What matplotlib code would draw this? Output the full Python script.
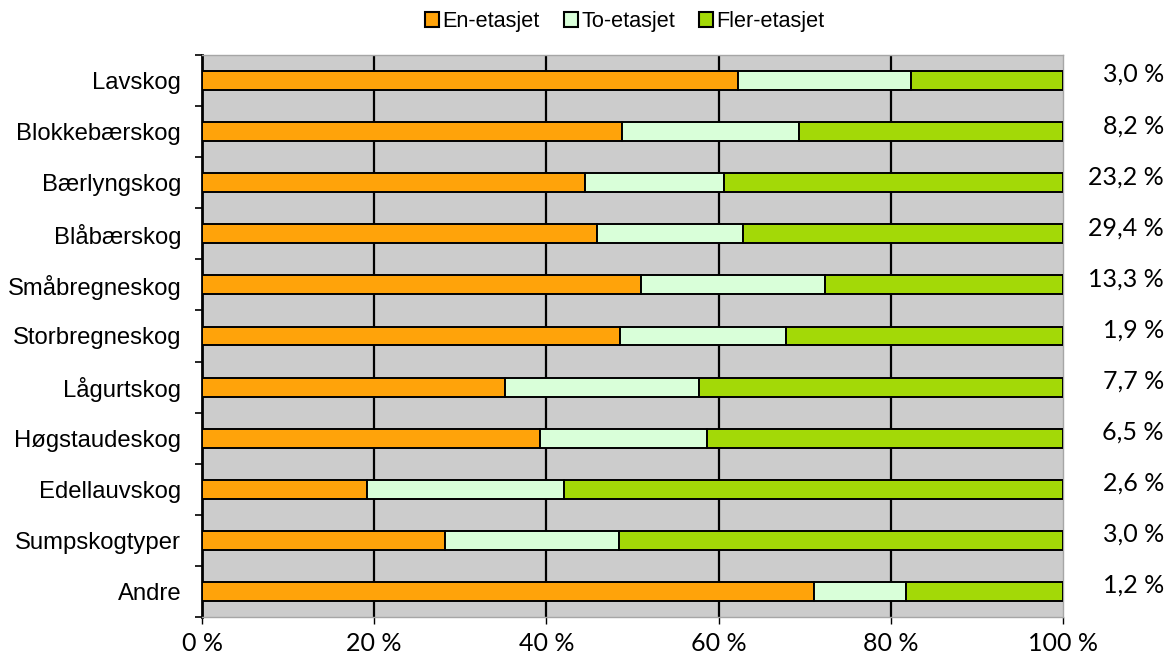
import numpy as np
import matplotlib
matplotlib.use("Agg")
import matplotlib.pyplot as plt
from matplotlib.patches import Patch

plt.rcParams["font.family"] = ["Liberation Sans", "DejaVu Sans"]

# Forest types, top to bottom
skogtyper = ["Lavskog", "Blokkebærskog", "Bærlyngskog", "Blåbærskog", "Småbregneskog",
             "Storbregneskog", "Lågurtskog", "Høgstaudeskog", "Edellauvskog",
             "Sumpskogtyper", "Andre"]

# Share of each layering class (%)
en_etasjet = [62.2, 48.8, 44.5, 45.9, 51.0, 48.6, 35.2, 39.2, 19.2, 28.2, 71.1]
to_etasjet = [20.2, 20.5, 16.1, 16.9, 21.3, 19.2, 22.5, 19.5, 22.8, 20.2, 10.7]
fler_etasjet = [17.6, 30.7, 39.4, 37.2, 27.7, 32.2, 42.3, 41.3, 58.0, 51.6, 18.2]

# Share of total area per forest type (%)
andel = [3.0, 8.2, 23.2, 29.4, 13.3, 1.9, 7.7, 6.5, 2.6, 3.0, 1.2]

x_ticks = [0, 20, 40, 60, 80, 100]

series = [("En-etasjet", en_etasjet, "#FFA30A"),
          ("To-etasjet", to_etasjet, "#D9FFD9"),
          ("Fler-etasjet", fler_etasjet, "#A3D907")]

fig = plt.figure(figsize=(11.7, 6.59), dpi=100)
ax = fig.add_axes([202 / 1170, 1 - 617 / 659, 861 / 1170, 562 / 659])
ax.set_facecolor("#CCCCCC")

y = np.arange(len(skogtyper))
left = np.zeros(len(skogtyper))
for name, vals, col in series:
    vals = np.array(vals)
    ax.barh(y, vals, left=left, height=0.37, color=col, edgecolor="black",
            linewidth=1.4, zorder=3, label=name)
    left += vals

for v in x_ticks[1:-1]:
    ax.axvline(v, color="black", lw=1.6, zorder=1)

ax.set_xlim(0, 100)
ax.set_ylim(len(skogtyper) - 0.5, -0.5)

ax.set_yticks(y)
ax.set_yticklabels(skogtyper)
ax.tick_params(axis="y", which="major", length=0, pad=15, labelsize=17.2)
ax.set_yticks(np.arange(len(skogtyper) + 1) - 0.5, minor=True)
ax.tick_params(axis="y", which="minor", length=5, width=1.2, direction="out")

ax.set_xticks(x_ticks)
ax.set_xticklabels([f"{v} %" for v in x_ticks])
ax.tick_params(axis="x", length=5, width=1, direction="out", pad=6)
for lbl in ax.get_xticklabels():
    lbl.set_fontfamily("Lato")
    lbl.set_fontsize(18)

for side in ["top", "right", "bottom"]:
    ax.spines[side].set_color("#A6A6A6")
    ax.spines[side].set_linewidth(1)
ax.spines["left"].set_color("black")
ax.spines["left"].set_linewidth(2)

# Area share at the right of each bar
for yi, a in zip(y, andel):
    ax.annotate(f"{a:.1f}".replace(".", ",") + " %", xy=(1.0, yi),
                xycoords=("axes fraction", "data"),
                xytext=(101 / 1.389, 6 / 1.389), textcoords="offset points",
                ha="right", va="center", fontsize=18, family="Lato")

handles = [Patch(facecolor=c, edgecolor="black", linewidth=1.5, label=n) for n, _, c in series]
fig.legend(handles=handles, loc="center", bbox_to_anchor=(0.534, 0.967), ncol=3,
           frameon=False, prop={"size": 15.6},
           handlelength=0.65, handleheight=0.65, handletextpad=0.15, columnspacing=1.1)

fig.savefig("out.png", dpi=100)
